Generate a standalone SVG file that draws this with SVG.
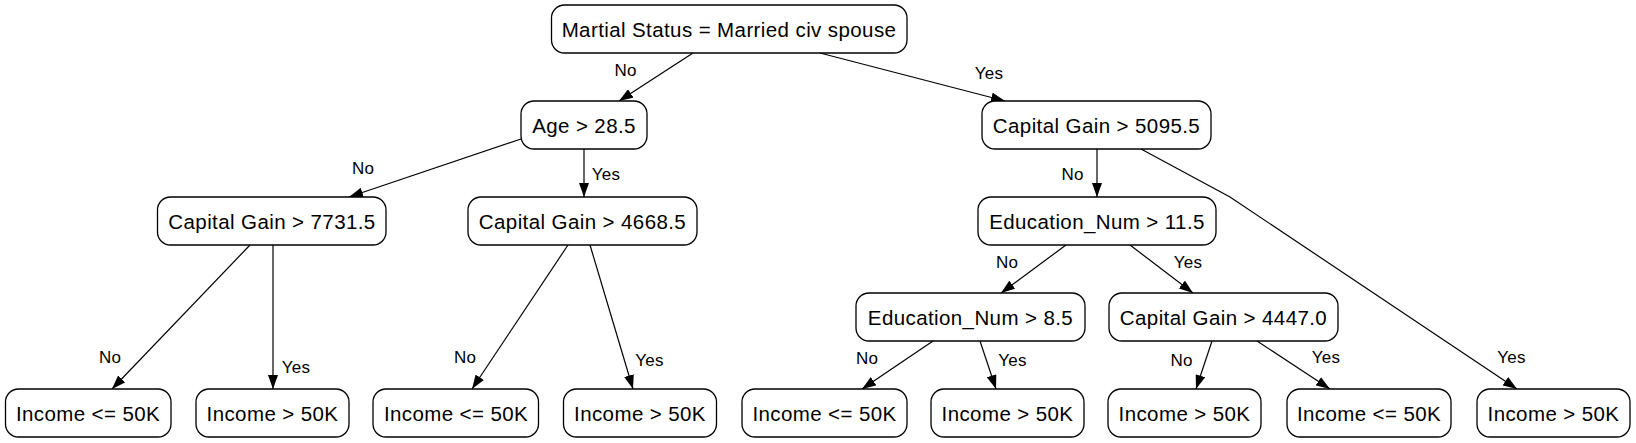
<svg xmlns="http://www.w3.org/2000/svg" width="1636" height="443" viewBox="0 0 1636 443">
<style>
.node rect{fill:#fff;stroke:#000;stroke-width:1.3}
.node text{font-family:"Liberation Sans",Arial,sans-serif;font-size:20.5px;letter-spacing:0.4px;text-anchor:middle;fill:#000}
.edges line,.edges polyline{stroke:#000;stroke-width:1.2;fill:none;marker-end:url(#arr)}
.lbl{font-family:"Liberation Sans",Arial,sans-serif;font-size:17px;letter-spacing:0.2px;text-anchor:middle;fill:#000}
</style>
<defs>
<marker id="arr" markerUnits="userSpaceOnUse" markerWidth="14" markerHeight="10" refX="14" refY="5" orient="auto">
<path d="M0,0 L14,5 L0,10 z" fill="#000"/>
</marker>
</defs>
<rect width="1636" height="443" fill="#fff"/>
<g id="edges" class="edges">
<line x1="693" y1="53" x2="619" y2="101"/>
<line x1="820" y1="53" x2="1005" y2="101"/>
<line x1="521" y1="139" x2="349" y2="197"/>
<line x1="584" y1="149" x2="584" y2="197"/>
<line x1="250" y1="245" x2="112" y2="389"/>
<line x1="273" y1="245" x2="273" y2="389"/>
<line x1="568" y1="245" x2="472" y2="389"/>
<line x1="590" y1="245" x2="633" y2="389"/>
<line x1="1097" y1="149" x2="1097" y2="197"/>
<polyline points="1141,149 1230,197 1517,389"/>
<line x1="1066" y1="245" x2="1001" y2="293"/>
<line x1="1130" y1="245" x2="1193" y2="293"/>
<line x1="933" y1="341" x2="862" y2="389"/>
<line x1="980" y1="341" x2="996" y2="389"/>
<line x1="1212" y1="341" x2="1196" y2="389"/>
<line x1="1257" y1="341" x2="1330" y2="389"/>
<text class="lbl" x="625.5" y="76">No</text>
<text class="lbl" x="989" y="79">Yes</text>
<text class="lbl" x="363" y="174">No</text>
<text class="lbl" x="606" y="180">Yes</text>
<text class="lbl" x="1072.5" y="180">No</text>
<text class="lbl" x="1007" y="268">No</text>
<text class="lbl" x="1188" y="268">Yes</text>
<text class="lbl" x="110" y="363">No</text>
<text class="lbl" x="296" y="373">Yes</text>
<text class="lbl" x="465" y="363">No</text>
<text class="lbl" x="649.5" y="366">Yes</text>
<text class="lbl" x="867" y="364">No</text>
<text class="lbl" x="1012.5" y="366">Yes</text>
<text class="lbl" x="1181.5" y="366">No</text>
<text class="lbl" x="1326" y="363">Yes</text>
<text class="lbl" x="1511.5" y="363">Yes</text>
</g>
<g id="root" class="node"><rect x="551.5" y="5" width="355.5" height="48" rx="13"/><text x="729" y="36.5">Martial Status = Married civ spouse</text></g>
<g id="age" class="node"><rect x="521" y="101" width="126" height="48" rx="13"/><text x="584" y="132.5">Age &gt; 28.5</text></g>
<g id="cg5095" class="node"><rect x="982" y="101" width="229" height="48" rx="13"/><text x="1096.5" y="132.5">Capital Gain &gt; 5095.5</text></g>
<g id="cg7731" class="node"><rect x="157.5" y="197" width="228.5" height="48" rx="13"/><text x="272" y="228.5">Capital Gain &gt; 7731.5</text></g>
<g id="cg4668" class="node"><rect x="468" y="197" width="229" height="48" rx="13"/><text x="582.5" y="228.5">Capital Gain &gt; 4668.5</text></g>
<g id="en115" class="node"><rect x="978" y="197" width="238" height="48" rx="13"/><text x="1097" y="228.5">Education_Num &gt; 11.5</text></g>
<g id="en85" class="node"><rect x="856" y="293" width="229" height="48" rx="13"/><text x="970.5" y="324.5">Education_Num &gt; 8.5</text></g>
<g id="cg4447" class="node"><rect x="1109" y="293" width="229" height="48" rx="13"/><text x="1223.5" y="324.5">Capital Gain &gt; 4447.0</text></g>
<g id="leaf1" class="node"><rect x="5.5" y="389" width="165.5" height="48" rx="13"/><text x="88" y="420.5">Income &lt;= 50K</text></g>
<g id="leaf2" class="node"><rect x="196" y="389" width="153" height="48" rx="13"/><text x="272.5" y="420.5">Income &gt; 50K</text></g>
<g id="leaf3" class="node"><rect x="373" y="389" width="165.5" height="48" rx="13"/><text x="456" y="420.5">Income &lt;= 50K</text></g>
<g id="leaf4" class="node"><rect x="563.5" y="389" width="153" height="48" rx="13"/><text x="640" y="420.5">Income &gt; 50K</text></g>
<g id="leaf5" class="node"><rect x="742" y="389" width="165" height="48" rx="13"/><text x="824.5" y="420.5">Income &lt;= 50K</text></g>
<g id="leaf6" class="node"><rect x="931" y="389" width="153" height="48" rx="13"/><text x="1007.5" y="420.5">Income &gt; 50K</text></g>
<g id="leaf7" class="node"><rect x="1108" y="389" width="153" height="48" rx="13"/><text x="1184.5" y="420.5">Income &gt; 50K</text></g>
<g id="leaf8" class="node"><rect x="1287" y="389" width="164" height="48" rx="13"/><text x="1369" y="420.5">Income &lt;= 50K</text></g>
<g id="leaf9" class="node"><rect x="1477" y="389" width="153" height="48" rx="13"/><text x="1553.5" y="420.5">Income &gt; 50K</text></g>
</svg>
